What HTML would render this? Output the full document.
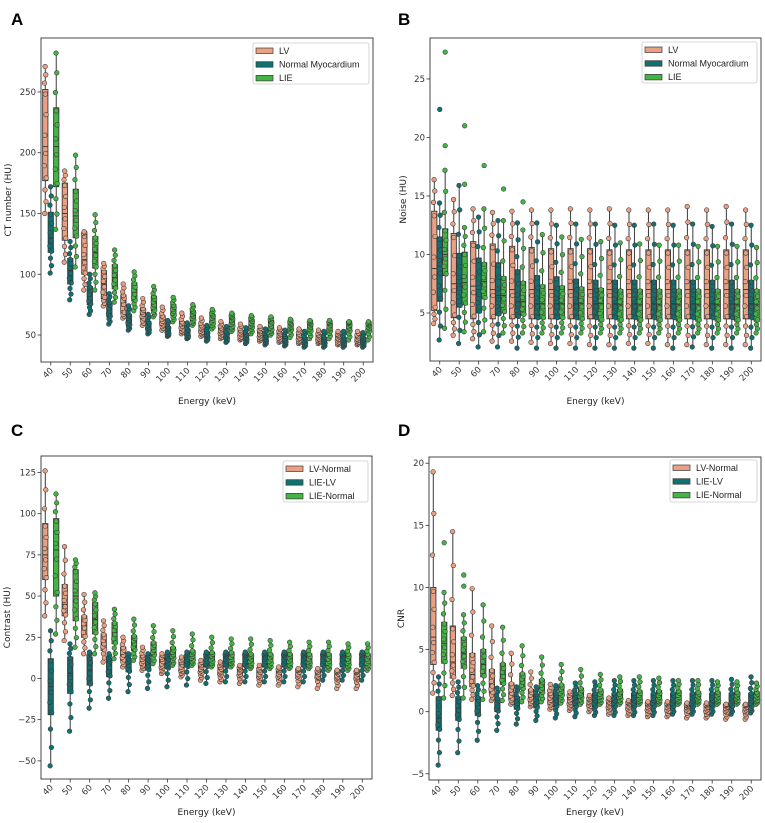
<!DOCTYPE html>
<html><head><meta charset="utf-8">
<style>
html,body{margin:0;padding:0;background:#fff;}
svg{display:block;font-family:"DejaVu Sans","Liberation Sans",sans-serif;}
</style></head>
<body>
<svg id="fig" width="765" height="823" viewBox="0 0 765 823" xmlns="http://www.w3.org/2000/svg"></svg>
<script>
// ---------- data ----------
const categories = [40,50,60,70,80,90,100,110,120,130,140,150,160,170,180,190,200];
// Box stats per category: [whisker low, q1, median, q3, whisker high]
// Panel A: CT number (HU)
const aLV = [[150,177,205,252,271],[110,128,150,175,185],[87,100,112,133,135],[74,80,92,103,109],[64,68,77,83,92],[58,63,68,72,80],[54,58,62,66,73],[51,54,58,61,68],[49,52,55,58,64],[47,50,53,56,61],[46,48,51,54,59],[45,47,50,53,57],[44,46,49,52,56],[43,45,48,51,55],[43,45,47,50,54],[42,44,47,50,53],[42,44,46,49,53]];
const aNM = [[101,118,130,151,172],[79,92,103,113,127],[67,75,82,90,100],[59,65,71,77,84],[54,58,63,67,74],[51,54,57,61,67],[49,51,54,57,62],[47,49,52,55,60],[45,48,50,53,58],[44,47,49,52,57],[43,46,48,51,56],[42,45,47,50,55],[41,44,46,49,54],[40,43,45,48,53],[40,43,45,48,53],[40,43,45,48,53],[40,43,45,48,52]];
const aLIE = [[137,172,205,237,282],[106,130,148,170,198],[87,105,118,131,149],[77,88,97,108,120],[70,78,85,93,102],[65,70,76,82,90],[61,66,70,75,81],[58,62,66,70,75],[55,59,63,67,71],[53,57,61,65,68],[51,56,59,63,66],[50,54,58,62,65],[48,54,57,60,63],[47,53,57,60,62],[47,53,56,60,62],[46,53,56,60,61],[46,53,56,59,61]];
// Panel B: Noise (HU)
const bLV = [[4.1,5.2,8.8,13.7,16.4],[3.1,4.6,7.5,11.8,14.7],[2.8,4.5,7.3,11.1,13.9],[2.6,4.5,7.0,10.9,13.6],[2.6,4.5,7.0,10.7,13.7],[2.5,4.5,7.0,10.6,13.8],[2.4,4.5,7.0,10.5,13.8],[2.4,4.5,7.0,10.5,13.9],[2.3,4.5,7.0,10.5,13.8],[2.3,4.5,7.0,10.4,13.9],[2.4,4.5,7.0,10.4,13.8],[2.4,4.5,7.0,10.4,13.8],[2.3,4.5,7.0,10.4,13.8],[2.3,4.5,7.0,10.4,14.1],[2.3,4.5,7.0,10.4,13.8],[2.3,4.5,7.0,10.4,14.1],[2.3,4.5,7.0,10.4,13.8]];
const bNM = [[2.7,6.0,9.0,11.5,14.4],[2.4,5.5,7.5,10.1,15.9],[2.1,5.0,7.0,9.7,13.2],[2.1,4.8,6.5,9.3,12.9],[2.0,4.6,6.0,8.7,12.7],[2.0,4.5,5.8,8.2,12.7],[2.0,4.5,5.8,8.1,12.5],[2.0,4.5,5.8,7.9,12.6],[2.0,4.5,5.8,7.8,12.6],[2.0,4.5,5.8,7.8,12.5],[2.0,4.5,5.8,7.8,12.5],[2.0,4.5,5.8,7.8,12.6],[2.0,4.5,5.8,7.8,12.5],[2.1,4.5,5.8,7.8,12.6],[2.0,4.5,5.8,7.8,12.4],[2.0,4.5,5.8,7.8,12.6],[2.0,4.5,5.8,7.8,12.5]];
const bLIE = [[3.7,8.2,10.0,12.2,17.2],[3.4,5.7,7.6,10.2,12.3],[3.4,6.2,7.7,9.3,13.9],[3.3,5.0,6.5,8.1,12.9],[3.3,4.8,6.0,7.7,12.1],[3.3,4.5,5.8,7.4,11.7],[3.3,4.5,5.8,7.3,11.5],[3.3,4.4,5.8,7.2,11.3],[3.3,4.3,5.8,7.1,11.1],[3.3,4.3,5.7,7.0,11.0],[3.3,4.3,5.7,7.0,10.9],[3.3,4.3,5.7,7.0,10.8],[3.3,4.3,5.7,7.0,10.8],[3.3,4.3,5.7,7.0,10.7],[3.3,4.3,5.7,7.0,10.7],[3.3,4.3,5.7,7.0,10.7],[3.3,4.3,5.7,7.0,10.6]];
// Panel C: Contrast (HU)
const cLN = [[38,60,75,94,126],[23,38,45,57,80],[15,25,32,38,51],[10,17,22,27,35],[7,11,15,19,25],[5,8,11,14,19],[3,6,8,12,15],[1,4,6,10,13],[-1,3,5,8,11],[-2,2,4,7,10],[-3,1,3,6,8],[-4,0,2,5,8],[-4,0,2,5,7],[-5,0,2,5,6],[-6,0,1,4,6],[-6,-1,1,4,5],[-6,-1,1,4,5]];
const cLL = [[-53,-22,-5,12,29],[-32,-9,3,13,21],[-18,-4,5,13,16],[-12,1,8,12,15],[-8,4,9,12,15],[-6,5,9,12,15],[-5,6,10,13,16],[-4,7,10,13,16],[-3,7,11,14,16],[-2,7,11,14,16],[-2,7,11,14,16],[-2,7,11,14,16],[-2,7,11,14,16],[-2,7,11,14,16],[-1,7,11,14,16],[-1,7,11,14,16],[-1,7,11,14,16]];
const cLIN = [[27,50,78,97,112],[19,35,50,66,72],[15,27,36,46,52],[12,21,28,34,42],[11,17,22,26,36],[9,14,18,22,32],[8,12,15,19,29],[8,11,14,17,27],[7,10,13,16,25],[7,10,12,16,24],[6,9,12,15,24],[6,9,12,15,23],[6,9,12,15,22],[6,9,11,15,22],[5,8,11,15,22],[5,8,11,15,21],[5,8,11,15,21]];
// Panel D: CNR
const dLN = [[1.5,3.8,6.0,10.0,19.3],[1.3,2.7,4.0,6.9,14.5],[1.0,2.0,3.0,4.7,9.9],[0.9,1.5,2.2,3.4,6.9],[0.6,1.0,1.6,2.3,4.7],[0.4,0.8,1.2,1.8,3.2],[0.2,0.6,1.0,1.5,2.2],[0.1,0.5,0.8,1.2,1.6],[0.0,0.4,0.7,1.0,1.3],[-0.2,0.2,0.5,0.8,1.1],[-0.3,0.1,0.4,0.7,0.9],[-0.4,0.0,0.3,0.6,0.8],[-0.4,0.0,0.3,0.6,0.8],[-0.5,0.0,0.3,0.5,0.7],[-0.5,-0.1,0.2,0.5,0.7],[-0.6,-0.1,0.2,0.5,0.6],[-0.6,-0.1,0.2,0.5,0.6]];
const dLL = [[-4.3,-1.5,-0.5,1.2,2.8],[-3.3,-0.7,0.3,1.2,2.4],[-2.3,-0.3,0.5,1.2,2.1],[-1.5,0.0,0.6,1.1,1.9],[-1.0,0.2,0.8,1.2,2.0],[-0.7,0.3,0.9,1.4,2.0],[-0.5,0.4,1.0,1.5,2.1],[-0.4,0.4,1.0,1.5,2.3],[-0.3,0.4,1.0,1.5,2.4],[-0.3,0.4,1.0,1.5,2.5],[-0.3,0.4,1.0,1.5,2.5],[-0.3,0.4,1.0,1.5,2.5],[-0.2,0.4,1.0,1.5,2.5],[-0.2,0.4,1.0,1.5,2.5],[-0.2,0.4,1.0,1.5,2.5],[-0.2,0.4,1.0,1.5,2.6],[-0.1,0.4,1.0,1.5,2.8]];
const dLIN = [[1.1,3.9,5.5,7.2,9.6],[1.1,3.5,4.7,6.0,7.8],[1.0,2.8,3.8,5.0,8.6],[0.9,2.2,3.0,3.9,6.8],[0.8,1.8,2.5,3.1,5.3],[0.8,1.5,2.0,2.6,4.4],[0.7,1.3,1.7,2.2,3.8],[0.6,1.1,1.4,1.9,3.4],[0.6,1.0,1.3,1.8,3.0],[0.6,1.0,1.3,1.8,2.8],[0.6,0.9,1.2,1.7,2.8],[0.6,0.9,1.2,1.7,2.7],[0.6,0.9,1.2,1.7,2.5],[0.6,0.9,1.2,1.6,2.5],[0.6,0.9,1.2,1.6,2.4],[0.6,0.9,1.2,1.6,2.4],[0.6,0.9,1.2,1.6,2.3]];
// Outliers: [categoryIndex, value]
const bNMout = [[0,22.4]];
const bLIEout = [[0,19.3],[0,27.3],[1,16.0],[1,21.0],[2,17.6],[3,15.6],[4,14.5]];
const dLINout = [[0,13.6],[1,10.1],[1,11.0]];
const aTicks = [50,100,150,200,250];
const bTicks = [5,10,15,20,25];
const cTicks = [-50,-25,0,25,50,75,100,125];
const dTicks = [-5,0,5,10,15,20];
const legendAB = ["LV","Normal Myocardium","LIE"];
const legendCD = ["LV-Normal","LIE-LV","LIE-Normal"];

// ---------- drawing ----------
const NS = "http://www.w3.org/2000/svg";
const svg = document.getElementById('fig');
const COLORS = ["#e9a083","#117070","#44b544"];
const EDGE = "#3a3a3a";
function mk(tag, attrs, parent){
  const e = document.createElementNS(NS, tag);
  for (const k in attrs) e.setAttribute(k, attrs[k]);
  (parent||svg).appendChild(e);
  return e;
}
const FR = [0,0.09,0.18,0.27,0.36,0.45,0.55,0.64,0.73,0.82,0.91,1];
const JIT = [-0.6,0.7,-0.3,0.9,-0.9,0.3,-0.5,0.8,0,-0.8,0.5,-0.2];
function quant(s, f){
  const k=[0,0.25,0.5,0.75,1];
  for(let i=0;i<4;i++){ if(f<=k[i+1]){ const t=(f-k[i])/0.25; return s[i]+(s[i+1]-s[i])*t; } }
  return s[4];
}
function panel(cfg){
  const g = mk('g',{});
  
  
  const {x0,x1,y0,y1,ymin,ymax} = cfg;
  const yS = v => y1 - (v-ymin)/(ymax-ymin)*(y1-y0);
  const step = (x1-x0)/categories.length;
  const xS = i => x0 + step*(i+0.5);
  const bw = step*0.27, off = step*0.28;
  const L = mk('text',{x:cfg.lx,y:cfg.ly,'font-size':17,'font-weight':'bold','font-family':'"Liberation Sans",sans-serif',fill:'#000'},g);
  L.textContent = cfg.letter;
  
  
  cfg.series.forEach((ser, h) => {
    const sg = mk('g',{},g);
    
    
    ser.forEach((s,i) => {
      const cx = xS(i) + (h-1)*off;
      mk('line',{x1:cx,x2:cx,y1:yS(s[4]),y2:yS(s[3]),stroke:EDGE,'stroke-width':1},sg);
      mk('line',{x1:cx,x2:cx,y1:yS(s[1]),y2:yS(s[0]),stroke:EDGE,'stroke-width':1},sg);
      const b = mk('rect',{x:cx-bw/2,y:yS(s[3]),width:bw,height:Math.max(0.5,yS(s[1])-yS(s[3])),fill:COLORS[h],stroke:EDGE,'stroke-width':0.9},sg);
      
      
      mk('line',{x1:cx-bw/2,x2:cx+bw/2,y1:yS(s[2]),y2:yS(s[2]),stroke:EDGE,'stroke-width':1},sg);
    });
    ser.forEach((s,i) => {
      const cx = xS(i) + (h-1)*off;
      FR.forEach((f,k) => {
        const p = mk('circle',{cx:cx+JIT[k],cy:yS(quant(s,f)),r:2.3,fill:COLORS[h],stroke:EDGE,'stroke-width':0.6},sg);
        
        
      });
    });
    (cfg.outliers[h]||[]).forEach(o => {
      const cx = xS(o[0]) + (h-1)*off;
      const p = mk('circle',{cx:cx,cy:yS(o[1]),r:2.3,fill:COLORS[h],stroke:EDGE,'stroke-width':0.6},sg);
      
      
    });
  });
  const fr = mk('rect',{x:x0,y:y0,width:x1-x0,height:y1-y0,fill:'none',stroke:'#333','stroke-width':0.9},g);
  
  
  cfg.ticks.forEach(t => {
    const y = yS(t);
    mk('line',{x1:x0-3.5,x2:x0,y1:y,y2:y,stroke:'#333','stroke-width':0.8},g);
    const tx = mk('text',{x:x0-5,y:y+3,'font-size':8.5,'text-anchor':'end',fill:'#333'},g);
    tx.textContent = t<0 ? '\u2212'+(-t) : String(t);
    
    
  });
  categories.forEach((c,i) => {
    const x = xS(i);
    mk('line',{x1:x,x2:x,y1:y1,y2:y1+3.5,stroke:'#333','stroke-width':0.8},g);
    const tx = mk('text',{x:x+3,y:y1+9,'font-size':8.5,'text-anchor':'end',fill:'#333',transform:`rotate(-45 ${x+3} ${y1+9})`},g);
    tx.textContent = String(c);
    
    
  });
  const xt = mk('text',{x:(x0+x1)/2,y:cfg.xty,'font-size':9,'text-anchor':'middle',fill:'#222'},g);
  xt.textContent = 'Energy (keV)';
  
  
  const ym = (y0+y1)/2;
  const yt = mk('text',{x:cfg.ytx,y:ym,'font-size':9,'text-anchor':'middle',fill:'#222',transform:`rotate(-90 ${cfg.ytx} ${ym})`},g);
  yt.textContent = cfg.ytitle;
  
  
  const lg = mk('g',{},g);
  
  
  const [lx,ly,lw,lh] = cfg.leg;
  mk('rect',{x:lx,y:ly,width:lw,height:lh,rx:2,fill:'#fff',stroke:'#ccc','stroke-width':0.8},lg);
  cfg.legend.forEach((name,h) => {
    const ry = ly+7.5+h*13.7;
    const e = mk('g',{},lg);
    
    
    mk('rect',{x:lx+3,y:ry-2.5,width:17,height:5.5,fill:COLORS[h],stroke:EDGE,'stroke-width':0.7},e);
    const t = mk('text',{x:lx+26,y:ry+3.3,'font-size':9,'font-family':'"Liberation Sans",sans-serif',fill:'#222'},e);
    t.textContent = name;
  });
}
panel({name:'panel-a-ct-number',letter:'A',lx:11,ly:25,x0:41,x1:373,y0:38,y1:362,ymin:27.8,ymax:294.4,ticks:aTicks,series:[aLV,aNM,aLIE],outliers:[[],[],[]],legend:legendAB,ytitle:'CT number (HU)',ytx:11,xty:404,leg:[253,43,116,41]});
panel({name:'panel-b-noise',letter:'B',lx:398,ly:25,x0:430,x1:761,y0:38,y1:361,ymin:0.9,ymax:28.5,ticks:bTicks,series:[bLV,bNM,bLIE],outliers:[[],bNMout,bLIEout],legend:legendAB,ytitle:'Noise (HU)',ytx:406,xty:404,leg:[642,42,115,41]});
panel({name:'panel-c-contrast',letter:'C',lx:11,ly:436,x0:41,x1:372,y0:456,y1:779,ymin:-61,ymax:135,ticks:cTicks,series:[cLN,cLL,cLIN],outliers:[[],[],[]],legend:legendCD,ytitle:'Contrast (HU)',ytx:10,xty:815,leg:[283,461,85,41]});
panel({name:'panel-d-cnr',letter:'D',lx:398,ly:436,x0:429,x1:761,y0:457,y1:780,ymin:-5.5,ymax:20.5,ticks:dTicks,series:[dLN,dLL,dLIN],outliers:[[],[],dLINout],legend:legendCD,ytitle:'CNR',ytx:404,xty:815,leg:[670,460,87,42]});
</script>
</body></html>
